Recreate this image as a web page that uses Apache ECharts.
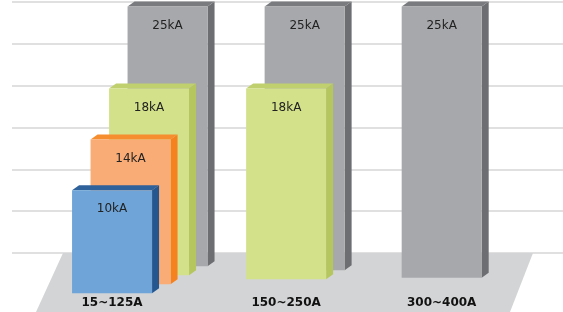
<!DOCTYPE html>
<html>
<head>
<meta charset="utf-8">
<script src="https://cdn.jsdelivr.net/npm/echarts@6/dist/echarts.min.js"></script>
<style>
  html, body { margin: 0; padding: 0; background: #fff; }
  #chart { width: 563px; height: 312px; }
</style>
</head>
<body>
<div id="chart"></div>
<script>
// data
const categories = ['15~125A', '150~250A', '300~400A'];
const s10 = [10, null, null];
const s14 = [14, null, null];
const s18 = [18, 18, null];
const s25 = [25, 25, 25];

// pseudo 3d layout (pixels)
const BAR_W = 80, SIDE_X = 7, SIDE_Y = 5;
const SLOT_X = 18.5, SLOT_Y = 9;
const floorDrop = [-1.5, 2.5, 10];

// back to front: grey, green, orange, blue
const seriesDefs = [
  { name: '25kA', data: s25, slot: 3, front: '#a7a8ab', side: '#6d6e71', top: '#7a7b7e' },
  { name: '18kA', data: s18, slot: 2, front: '#d3e18a', side: '#b6c65f', top: '#c0d06e' },
  { name: '14kA', data: s14, slot: 1, front: '#f9ac76', side: '#f5821f', top: '#f68e30' },
  { name: '10kA', data: s10, slot: 0, front: '#6ea4d7', side: '#245790', top: '#2f619b' }
];

// frontmost slot for each category, the category label goes under it
const frontSlot = categories.map((c, i) => {
  let best = null;
  seriesDefs.forEach(d => {
    if (d.data[i] != null && (best === null || d.slot < best)) best = d.slot;
  });
  return best;
});

function makeRender(def) {
  return function (params, api) {
    const ci = api.value(0);
    const v = api.value(1);
    const ox = def.slot * SLOT_X;
    const oy = def.slot * SLOT_Y;
    const ptTop = api.coord([ci, v]);
    const ptBase = api.coord([ci, 0]);
    const x = ptTop[0] - BAR_W / 2 + ox;
    const yt = ptTop[1] - oy;
    const yb = ptBase[1] - oy + floorDrop[ci];
    const children = [
      { type: 'polygon', shape: { points: [[x + BAR_W, yt], [x + BAR_W + SIDE_X, yt - SIDE_Y], [x + BAR_W + SIDE_X, yb - SIDE_Y], [x + BAR_W, yb]] }, style: { fill: def.side } },
      { type: 'polygon', shape: { points: [[x, yt], [x + SIDE_X, yt - SIDE_Y], [x + BAR_W + SIDE_X, yt - SIDE_Y], [x + BAR_W, yt]] }, style: { fill: def.top } },
      { type: 'rect', shape: { x: x, y: yt, width: BAR_W, height: yb - yt }, style: { fill: def.front } },
      { type: 'text', style: { text: def.name, x: x + BAR_W / 2, y: yt + 19, align: 'center', verticalAlign: 'middle', fill: '#222', font: '12px "DejaVu Sans"' } }
    ];
    if (frontSlot[ci] === def.slot) {
      children.push({ type: 'text', style: { text: categories[ci], x: x + BAR_W / 2, y: 303, align: 'center', verticalAlign: 'middle', fill: '#111', font: 'bold 12px "DejaVu Sans"' } });
    }
    return { type: 'group', children: children };
  };
}

const chart = echarts.init(document.getElementById('chart'));
chart.setOption({
  animation: false,
  grid: { left: 12, right: 0, top: 2, bottom: 59 },
  xAxis: {
    type: 'value',
    min: -0.73,
    max: 3.29,
    show: false
  },
  yAxis: {
    type: 'value',
    min: 4,
    max: 28,
    interval: 4,
    axisLine: { show: false },
    axisTick: { show: false },
    axisLabel: { show: false },
    splitLine: { lineStyle: { color: '#d6d6d6', width: 1.5 } }
  },
  graphic: [{
    type: 'polygon',
    z: 1,
    shape: { points: [[63, 253], [533, 253], [510, 312], [36, 312]] },
    style: { fill: '#d3d4d6' }
  }],
  series: seriesDefs.map(def => ({
    type: 'custom',
    name: def.name,
    z: 3,
    renderItem: makeRender(def),
    data: def.data.map((v, i) => [i, v]).filter(d => d[1] != null)
  }))
});
</script>
</body>
</html>
